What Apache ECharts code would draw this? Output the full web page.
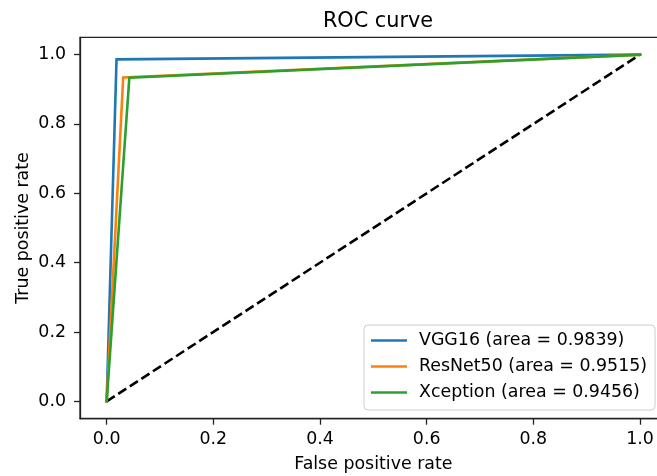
<!DOCTYPE html>
<html>
<head>
<meta charset="utf-8">
<script src="https://cdn.jsdelivr.net/npm/echarts@6/dist/echarts.min.js"></script>
<style>
html,body{margin:0;padding:0;background:#fff;}
#chart{width:657px;height:476px;}
</style>
</head>
<body>
<div id="chart"></div>
<script>
// ---- data ----
const seriesNames = ['VGG16 (area = 0.9839)', 'ResNet50 (area = 0.9515)', 'Xception (area = 0.9456)'];
const vggFpr = [0, 0.0185, 1];
const vggTpr = [0, 0.9863, 1];
const resnetFpr = [0, 0.031, 1];
const resnetTpr = [0, 0.934, 1];
const xceptionFpr = [0, 0.0425, 1];
const xceptionTpr = [0, 0.9337, 1];
const chanceFpr = [0, 1];
const chanceTpr = [0, 1];
const xTicks = [0, 0.2, 0.4, 0.6, 0.8, 1.0];
const yTicks = [0, 0.2, 0.4, 0.6, 0.8, 1.0];

const colors = ['#1f77b4', '#ff7f0e', '#2ca02c'];
const FONT = 'DejaVu Sans';
const FS = 17.4;

function pairs(xs, ys) { return xs.map((x, i) => [x, ys[i]]); }

const chart = echarts.init(document.getElementById('chart'), null, {renderer: 'canvas'});

const curveSeries = [
  [vggFpr, vggTpr],
  [resnetFpr, resnetTpr],
  [xceptionFpr, xceptionTpr]
].map((d, i) => ({
  name: seriesNames[i],
  type: 'line',
  data: pairs(d[0], d[1]),
  symbol: 'none',
  lineStyle: {color: colors[i], width: 2.6, cap: 'square', join: 'miter'},
  itemStyle: {color: colors[i]},
  z: 3,
  animation: false
}));

const option = {
  animation: false,
  backgroundColor: '#ffffff',
  title: {
    text: 'ROC curve',
    left: 373,
    textAlign: 'center',
    top: 6,
    textStyle: {fontFamily: FONT, fontSize: 20.8, fontWeight: 'normal', color: '#000'}
  },
  legend: {
    orient: 'vertical',
    left: 364,
    top: 325,
    data: seriesNames.map((n, i) => ({name: n, icon: 'rect', itemStyle: {color: colors[i]}})),
    itemWidth: 36,
    itemHeight: 2.6,
    itemGap: 5,
    padding: [5, 8, 7, 7],
    backgroundColor: 'rgba(255,255,255,0.8)',
    borderColor: '#cccccc',
    borderWidth: 1,
    borderRadius: 4,
    textStyle: {fontFamily: FONT, fontSize: FS, color: '#000', lineHeight: 21, padding: [0, 0, 0, 7]}
  },
  grid: {
    left: 80,
    top: 37.3,
    width: 586.7,
    height: 381.4,
    outerBoundsMode: 'none',
    show: true,
    borderColor: '#222',
    borderWidth: 1.3,
    containLabel: false
  },
  xAxis: {
    type: 'value',
    min: -0.05,
    max: 1.05,
    name: 'False positive rate',
    nameLocation: 'middle',
    nameGap: 37,
    nameMoveOverlap: false,
    nameTextStyle: {fontFamily: FONT, fontSize: FS, color: '#000'},
    axisLine: {show: true, onZero: false, lineStyle: {color: '#222', width: 1.3}},
    axisTick: {show: true, inside: false, length: 6, customValues: xTicks, lineStyle: {color: '#222', width: 1.3}},
    axisLabel: {show: true, margin: 12, customValues: xTicks, formatter: v => v.toFixed(1), fontFamily: FONT, fontSize: FS, color: '#000'},
    splitLine: {show: false}
  },
  yAxis: {
    type: 'value',
    min: -0.05,
    max: 1.05,
    name: 'True positive rate',
    nameLocation: 'middle',
    nameGap: 48,
    nameMoveOverlap: false,
    nameRotate: 90,
    nameTextStyle: {fontFamily: FONT, fontSize: FS, color: '#000'},
    axisLine: {show: true, onZero: false, lineStyle: {color: '#222', width: 1.3}},
    axisTick: {show: true, inside: false, length: 6, customValues: yTicks, lineStyle: {color: '#222', width: 1.3}},
    axisLabel: {show: true, margin: 14, customValues: yTicks, formatter: v => v.toFixed(1), fontFamily: FONT, fontSize: FS, color: '#000'},
    splitLine: {show: false}
  },
  series: curveSeries.concat([{
    name: 'chance',
    type: 'line',
    data: pairs(chanceFpr, chanceTpr),
    symbol: 'none',
    lineStyle: {color: '#000', width: 2.6, type: [9.6, 4.2]},
    z: 2,
    animation: false
  }])
};

chart.setOption(option);
</script>
</body>
</html>
